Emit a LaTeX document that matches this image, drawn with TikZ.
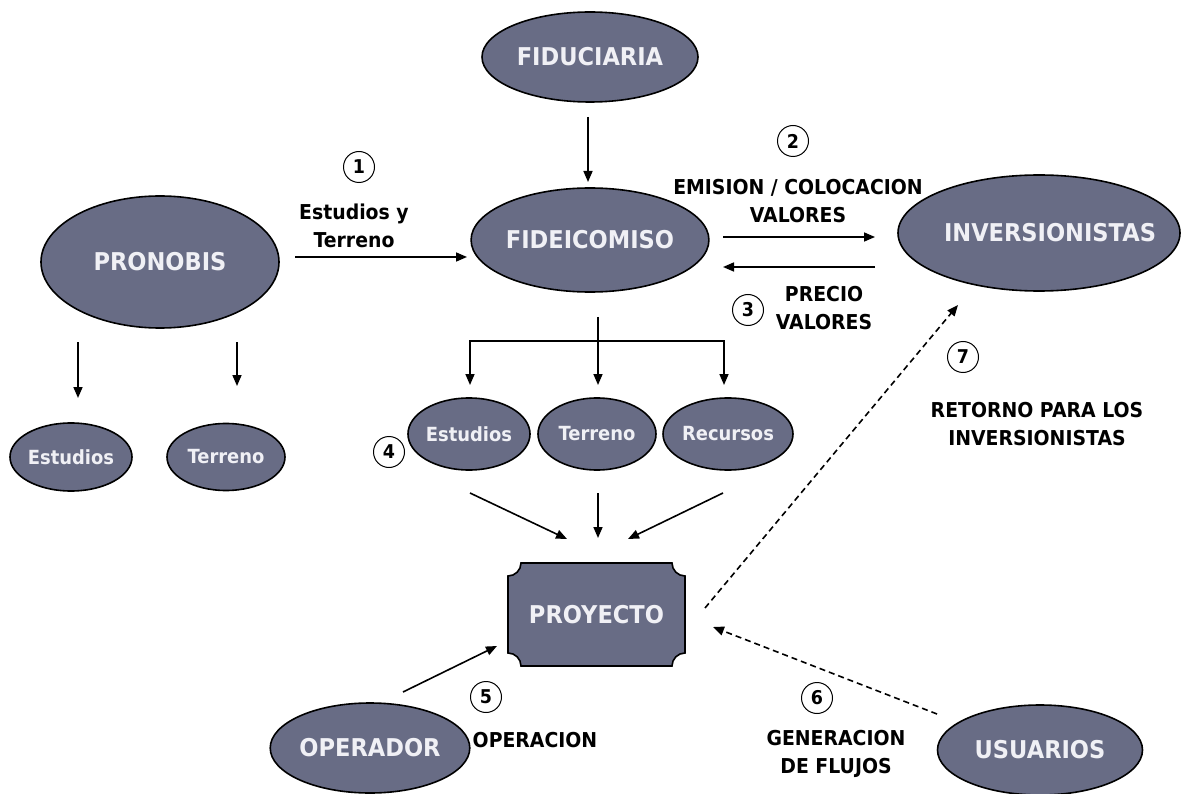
\documentclass[tikz,border=0pt]{standalone}
\usepackage{fontspec}
\setmainfont{DejaVu Sans}[FakeStretch=0.92]
\usetikzlibrary{shapes.geometric,arrows.meta}
\definecolor{ellfill}{RGB}{104,108,133}
\definecolor{elltext}{RGB}{240,240,245}
\begin{document}
\begin{tikzpicture}[x=1pt,y=-1pt,
  ell/.style={ellipse, draw=black, line width=1.6pt, fill=ellfill, text=elltext, inner sep=0pt,
    font=\bfseries\fontsize{24.5}{28}\selectfont},
  smallell/.style={ell, font=\bfseries\fontsize{19.5}{23}\selectfont},
  num/.style={circle, draw, line width=1pt, minimum size=31pt, inner sep=0pt,
    font=\bfseries\fontsize{19}{22}\selectfont},
  lbl/.style={align=center, inner sep=0pt, font=\bfseries\fontsize{20.5}{27.5}\selectfont},
  arr/.style={-{Triangle[length=11pt,width=9pt]}, line width=1.6pt},
  darr/.style={arr, dash pattern=on 6pt off 4pt}]
\useasboundingbox (0,0) rectangle (1186,794);

% main ellipses
\node[ell, minimum width=216pt, minimum height=90pt] (fiduciaria) at (590,57) {FIDUCIARIA};
\node[ell, minimum width=236pt, minimum height=104pt] (fideicomiso) at (590,240) {FIDEICOMISO};
\node[ell, minimum width=238pt, minimum height=132pt] (pronobis) at (160,262) {PRONOBIS};
\node[ell, minimum width=282pt, minimum height=116pt] (inversionistas) at (1039,233) {\makebox[0pt]{\hspace*{22pt}INVERSIONISTAS}};
\node[ell, minimum width=186pt, minimum height=90pt] (operador) at (370,748) {OPERADOR};
\node[ell, minimum width=205pt, minimum height=90pt] (usuarios) at (1040,750) {USUARIOS};

% small ellipses
\node[smallell, minimum width=118pt, minimum height=68pt] (estudiosA) at (71,457) {Estudios};
\node[smallell, minimum width=118pt, minimum height=67pt] (terrenoA) at (226,457) {Terreno};
\node[smallell, minimum width=115pt, minimum height=72pt] (estudiosB) at (469,434) {Estudios};
\node[smallell, minimum width=118pt, minimum height=72pt] (terrenoB) at (597,434) {Terreno};
\node[smallell, minimum width=127pt, minimum height=72pt] (recursos) at (728,434) {Recursos};

% proyecto
\draw[fill=ellfill, line width=1.6pt]
  (521,563) -- (672,563) arc[start angle=180, end angle=90, radius=13]
  -- (685,653) arc[start angle=270, end angle=180, radius=13]
  -- (521,666) arc[start angle=0, end angle=-90, radius=13]
  -- (508,576) arc[start angle=90, end angle=0, radius=13] -- cycle;
\node[text=elltext, minimum width=177pt, minimum height=103pt, inner sep=0pt,
  font=\bfseries\fontsize{24.5}{28}\selectfont] (proyecto) at (596.5,614.5) {PROYECTO};

% numbers and labels
\node[num] (n1) at (359,167) {1};
\node[lbl] (l1) at (354,226) {Estudios y\\Terreno};
\node[num] (n2) at (793,141) {2};
\node[lbl] (l2) at (798,201) {EMISION / COLOCACION\\VALORES};
\node[num] (n3) at (748,310) {3};
\node[lbl] (l3) at (824,308) {PRECIO\\VALORES};
\node[num] (n4) at (389,452) {4};
\node[num] (n5) at (486,697) {5};
\node[lbl] (l5) at (535,740) {OPERACION};
\node[num] (n6) at (817,698) {6};
\node[lbl] (l6) at (836,754) {GENERACION\\DE FLUJOS};
\node[num] (n7) at (963,357) {7};
\node[lbl] (l7) at (1037,424) {RETORNO PARA LOS\\INVERSIONISTAS};

% connector end points
\coordinate (a1s) at (295,257); \coordinate (a1e) at (467,257);
\coordinate (a2s) at (588,117); \coordinate (a2e) at (588,182);
\coordinate (a3s) at (723,237); \coordinate (a3e) at (875,237);
\coordinate (a4s) at (875,267); \coordinate (a4e) at (723,267);
\coordinate (p1s) at (78,342);  \coordinate (p1e) at (78,398);
\coordinate (p2s) at (237,342); \coordinate (p2e) at (237,386);
\coordinate (ts) at (598,317);  \coordinate (tm) at (598,341);
\coordinate (tl) at (470,341);  \coordinate (tr) at (724,341);
\coordinate (tle) at (470,385); \coordinate (tme) at (598,385); \coordinate (tre) at (724,385);
\coordinate (e1s) at (470,493); \coordinate (e1e) at (567,539);
\coordinate (e2s) at (598,493); \coordinate (e2e) at (598,538);
\coordinate (e3s) at (723,493); \coordinate (e3e) at (628,539);
\coordinate (os) at (403,692);  \coordinate (oe) at (497,646);
\coordinate (us) at (937,714);  \coordinate (ue) at (713,627);
\coordinate (rs) at (705,608);  \coordinate (re) at (958,305);

% connectors
\draw[arr] (a1s) -- (a1e);
\draw[arr] (a2s) -- (a2e);
\draw[arr] (a3s) -- (a3e);
\draw[arr] (a4s) -- (a4e);
\draw[arr] (p1s) -- (p1e);
\draw[arr] (p2s) -- (p2e);
\draw[arr] (ts) -- (tme);
\draw[line width=1.6pt, line cap=rect] (tl) -- (tr);
\draw[arr] (tl) -- (tle);
\draw[arr] (tr) -- (tre);
\draw[arr] (e1s) -- (e1e);
\draw[arr] (e2s) -- (e2e);
\draw[arr] (e3s) -- (e3e);
\draw[arr] (os) -- (oe);
\draw[darr] (us) -- (ue);
\draw[darr] (rs) -- (re);
\end{tikzpicture}
\end{document}
